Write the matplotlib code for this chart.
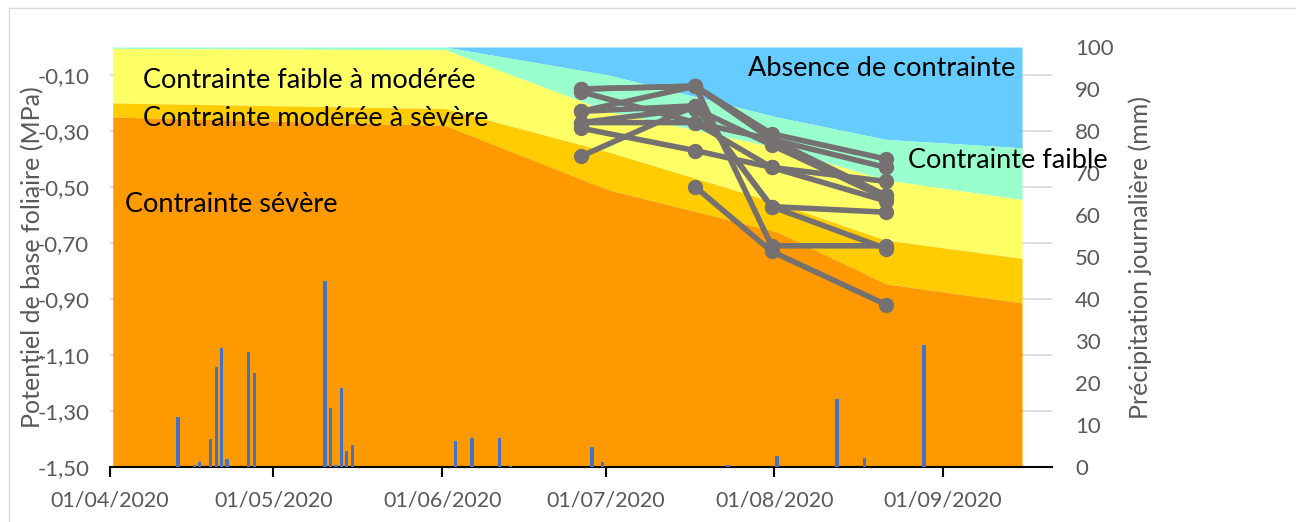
import numpy as np
import pandas as pd
import matplotlib
matplotlib.use('Agg')
from matplotlib import pyplot as plt
import matplotlib.dates as mdates
from matplotlib.lines import Line2D

plt.rcParams['font.family'] = ['Lato', 'DejaVu Sans']

# Seuils de contrainte hydrique (MPa), bornes inférieures de chaque classe
seuil_dates = ['2020-04-01', '2020-06-01', '2020-07-01', '2020-08-01',
               '2020-08-21', '2020-09-15']
lim_absence = [0.0, 0.0, -0.10, -0.25, -0.33, -0.36]
lim_faible = [-0.005, -0.01, -0.23, -0.36, -0.475, -0.545]
lim_faible_moderee = [-0.20, -0.22, -0.375, -0.557, -0.69, -0.755]
lim_moderee_severe = [-0.25, -0.28, -0.51, -0.66, -0.846, -0.914]

# Potentiel de base mesuré par parcelle
mesure_dates = ['2020-06-26', '2020-07-17', '2020-07-31', '2020-08-21']
parcelles = [
    [-0.15, -0.14, -0.31, -0.40],
    [-0.16, -0.27, -0.33, -0.43],
    [-0.23, -0.14, -0.71, -0.71],
    [-0.27, -0.22, -0.35, -0.54],
    [-0.29, -0.37, -0.43, -0.48],
    [-0.39, -0.21, -0.57, -0.59],
    [np.nan, -0.50, -0.73, -0.92],
    [-0.15, -0.14, -0.33, -0.53],
    [-0.27, -0.27, -0.43, -0.55],
    [-0.23, -0.21, -0.57, -0.72],
]

# Pluie journalière (mm)
pluie_dates = ['2020-04-13', '2020-04-16', '2020-04-17', '2020-04-19',
               '2020-04-20', '2020-04-21', '2020-04-22', '2020-04-26',
               '2020-04-27', '2020-05-10', '2020-05-11', '2020-05-12',
               '2020-05-13', '2020-05-14', '2020-05-15', '2020-06-03',
               '2020-06-06', '2020-06-11', '2020-06-13', '2020-06-28',
               '2020-06-30', '2020-07-23', '2020-08-01', '2020-08-12',
               '2020-08-17', '2020-08-28']
pluie = [11.8, 0.5, 1.3, 6.6, 23.7, 28.3, 1.8, 27.5, 22.3, 44.3, 14.0, 0.5,
         18.9, 3.8, 5.3, 6.3, 6.9, 7.0, 0.3, 4.8, 1.3, 0.4, 2.6, 16.2, 2.1,
         29.0]

grey_txt = '#595959'
half = pd.Timedelta(hours=12)
xs = pd.to_datetime(seuil_dates) + half
xm = pd.to_datetime(mesure_dates) + half
xp = pd.to_datetime(pluie_dates) + half

fig = plt.figure(figsize=(12.96, 5.22), dpi=100)
ax = fig.add_axes([110/1296, 1 - 467/522, 942/1296, 420/522])

# classes de contrainte, empilées du haut vers le bas
ax.fill_between(xs, 0, lim_absence, color='#66CCFF', lw=0, zorder=1)
ax.fill_between(xs, lim_absence, lim_faible, color='#99FFCC', lw=0, zorder=1)
ax.fill_between(xs, lim_faible, lim_faible_moderee, color='#FFFF66', lw=0, zorder=1)
ax.fill_between(xs, lim_faible_moderee, lim_moderee_severe, color='#FFCC00', lw=0, zorder=1)
ax.fill_between(xs, lim_moderee_severe, -1.5, color='#FF9900', lw=0, zorder=1)

for serie in parcelles:
    ax.plot(xm, serie, color='#767171', lw=4, marker='o', ms=10,
            solid_capstyle='round', zorder=3)

start = pd.Timestamp('2020-04-01')
ax.set_xlim(start, start + pd.Timedelta(days=173))
ax.set_ylim(-1.5, 0)
ax.set_yticks(np.arange(-1.5, -0.05, 0.2))
ax.yaxis.set_major_formatter(lambda v, p: f'{v:.2f}'.replace('.', ','))
ax.set_axisbelow(True)
ax.grid(axis='y', color='#D9D9D9', lw=1.2, zorder=0)

ax.xaxis.set_major_locator(mdates.MonthLocator())
ax.xaxis.set_major_formatter(mdates.DateFormatter('%d/%m/%Y'))
ax.tick_params(axis='x', direction='out', length=7, width=1.5, colors='black',
               labelcolor=grey_txt, labelsize=15.5, pad=10)
ax.tick_params(axis='y', length=0, labelcolor=grey_txt, labelsize=16, pad=15)
for s in ['top', 'right', 'left']:
    ax.spines[s].set_visible(False)
ax.spines['bottom'].set_linewidth(1.5)
ax.set_ylabel('Potenţiel de base foliaire (MPa)', color=grey_txt, fontsize=18)
ax.yaxis.set_label_coords(-0.070, 0.5)

ax2 = ax.twinx()
ax2.bar(xp, pluie, width=0.6, color='#4472C4', zorder=2)
ax2.set_ylim(0, 100)
ax2.set_yticks(range(0, 101, 10))
ax2.tick_params(axis='y', length=0, labelcolor=grey_txt, labelsize=16, pad=16.5)
for s in ['top', 'right', 'left', 'bottom']:
    ax2.spines[s].set_visible(False)
ax2.set_ylabel('Précipitation journalière (mm)', color=grey_txt, fontsize=18)
ax2.yaxis.set_label_coords(1.081, 0.5)

labels = [
    ('Contrainte faible à modérée', 143, 80),
    ('Contrainte modérée à sèvère', 143, 119),
    ('Contrainte sévère', 125, 205),
    ('Absence de contrainte', 748, 68),
    ('Contrainte faible', 908, 161),
]
for txt, px, py in labels:
    fig.text(px/1296, 1 - py/522, txt, fontsize=19.5, color='black',
             ha='left', va='center', zorder=10)

# cadre du graphique
fig.add_artist(Line2D([9/1296, 1], [1 - 8/522, 1 - 8/522], color='#D9D9D9', lw=1))
fig.add_artist(Line2D([9/1296, 9/1296], [0, 1 - 8/522], color='#D9D9D9', lw=1))

fig.savefig('out.png', dpi=100)
